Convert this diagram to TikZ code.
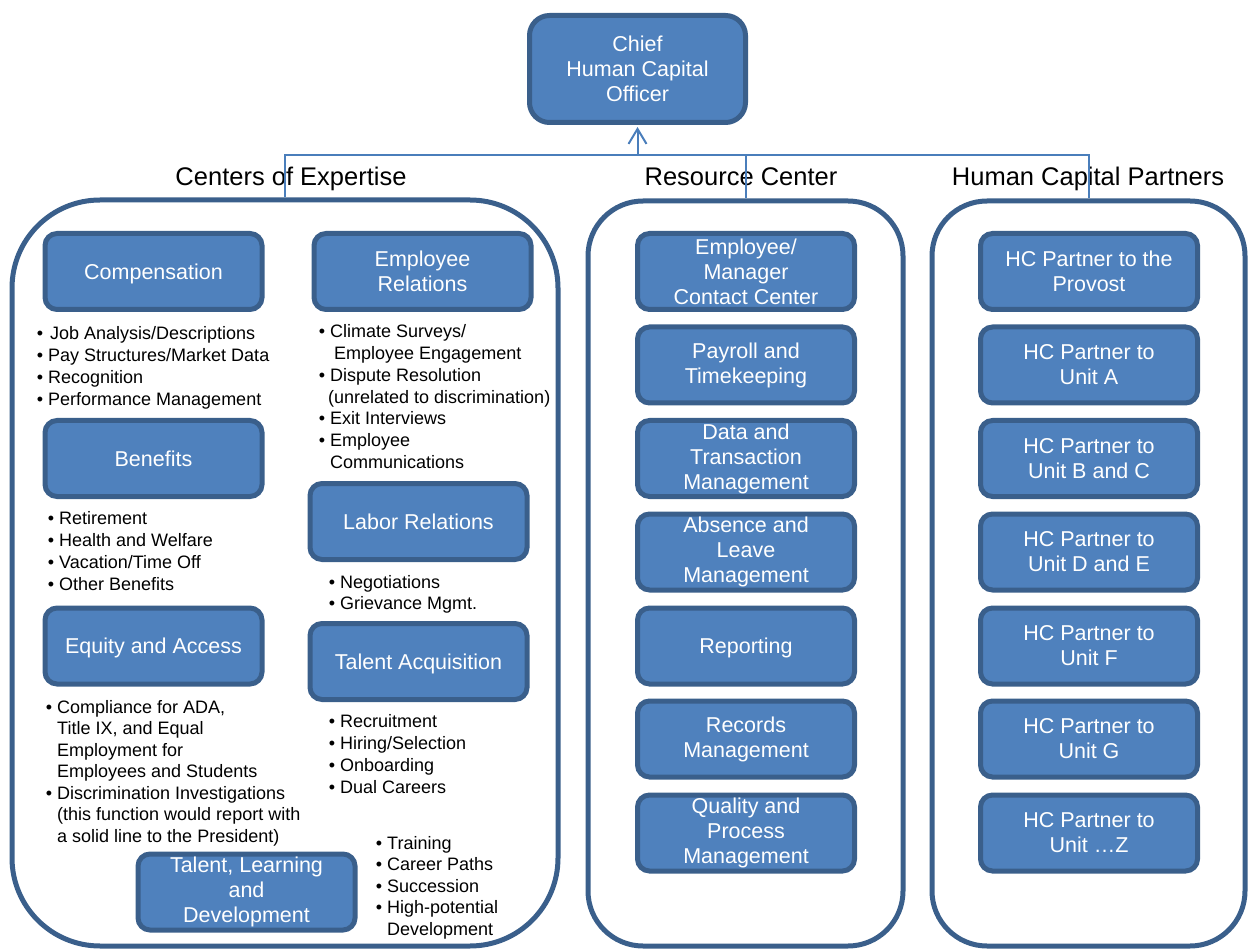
\documentclass[tikz,border=0pt]{standalone}
\usepackage{fontspec}
\setmainfont{Liberation Sans}
\usetikzlibrary{arrows.meta}
\definecolor{boxfill}{HTML}{4F81BD}
\definecolor{boxline}{HTML}{3A5F8B}
\definecolor{connc}{HTML}{4A7EBB}
% bullet hanging to the left of the item text
\newcommand\itm{\leavevmode\llap{\textbullet\hspace{5pt}}}
% bullet list block: #1 line spacing, #2 lines
\newcommand\blist[2]{\parbox[t]{300pt}{\raggedright\fontsize{18}{#1}\selectfont #2}}
\begin{document}
\begin{tikzpicture}[x=1pt,y=-1pt,
  box/.style={draw=boxline, fill=boxfill, line width=5pt, rounded corners=12pt,
    minimum width=217pt, minimum height=76pt, inner sep=0pt, text=white,
    align=center, font=\fontsize{21.5}{25}\selectfont},
  oneline/.style={text depth=0pt},
  container/.style={draw=boxline, line width=5pt, inner sep=0pt},
  hdr/.style={font=\fontsize{25.5}{30}\selectfont, inner sep=0pt, anchor=base},
  lst/.style={inner sep=0pt, anchor=base west},
  conn/.style={draw=connc, line width=2pt}]
\useasboundingbox (0,0) rectangle (1248,949);

% group containers
\node[container, minimum width=546pt, minimum height=746pt, rounded corners=88pt] (lc) at (285,573) {};
\node[container, minimum width=315pt, minimum height=745pt, rounded corners=55pt] (mc) at (745.5,573.5) {};
\node[container, minimum width=313pt, minimum height=745pt, rounded corners=55pt] (rc) at (1088.5,573.5) {};

% group headings
\node[hdr] (hce) at (291,186) {Centers of Expertise};
\node[hdr] (hrc) at (741,186) {Resource Center};
\node[hdr] (hhp) at (1088,186) {Human Capital Partners};

% top box
\node[box, minimum width=216pt, minimum height=107pt, rounded corners=20pt] (chief) at (637.5,69) {Chief\\Human Capital\\Officer};

% reporting lines
\coordinate (bus) at (0,155);
\draw[conn] (lc.north) -- (lc.north |- bus) -- (rc.north |- bus) -- (rc.north);
\draw[conn] (mc.north) -- (mc.north |- bus);
\draw[conn, -{Straight Barb[length=15pt,width=18pt]}, shorten >=2pt] (chief.south |- bus) -- (chief.south);

% Centers of Expertise
\node[box, oneline] (comp) at (153.5,271.5) {Compensation};
\node[box, oneline] (ben) at (153.5,458.5) {Benefits};
\node[box, oneline] (eqa) at (153.5,646) {Equity and Access};
\node[box] (er) at (422.5,271.5) {Employee\\Relations};
\node[box, oneline] (lr) at (418.5,521.5) {Labor Relations};
\node[box, oneline] (ta) at (418.5,661.5) {Talent Acquisition};
\node[box] (tld) at (246.5,892) {Talent, Learning\\and\\Development};

\node[lst] (lcomp) at (48,340) {\blist{22pt}{\itm\hspace*{2pt}Job Analysis/Descriptions\\
  \itm Pay Structures/Market Data\\ \itm Recognition\\ \itm Performance Management}};
\node[lst] (lben) at (59,524) {\blist{22pt}{\itm Retirement\\ \itm Health and Welfare\\
  \itm Vacation/Time Off\\ \itm Other Benefits}};
\node[lst] (leqa) at (57,713) {\blist{21.5pt}{\itm Compliance for ADA,\\ Title IX, and Equal\\
  Employment for\\ Employees and Students\\ \itm Discrimination Investigations\\
  (this function would report with\\ a solid line to the President)}};
\node[lst] (ler) at (330,338) {\blist{21.7pt}{\itm Climate Surveys/\\ \hspace*{4pt}Employee Engagement\\
  \itm Dispute Resolution\\ \hspace*{-2pt}(unrelated to discrimination)\\
  \itm Exit Interviews\\ \itm Employee\\ Communications}};
\node[lst] (llr) at (340,588) {\blist{21pt}{\itm Negotiations\\ \itm Grievance Mgmt.}};
\node[lst] (lta) at (340,727) {\blist{22pt}{\itm Recruitment\\ \itm Hiring/Selection\\
  \itm Onboarding\\ \itm Dual Careers}};
\node[lst] (ltld) at (387,849) {\blist{21.5pt}{\itm Training\\ \itm Career Paths\\
  \itm Succession\\ \itm High-potential\\ Development}};

% Resource Center
\node[box] (rc1) at (746,271.5) {Employee/\\Manager\\Contact Center};
\node[box] (rc2) at (746,365) {Payroll and\\Timekeeping};
\node[box] (rc3) at (746,458.5) {Data and\\Transaction\\Management};
\node[box] (rc4) at (746,552) {Absence and\\Leave\\Management};
\node[box, oneline] (rc5) at (746,646) {Reporting};
\node[box] (rc6) at (746,739) {Records\\Management};
\node[box] (rc7) at (746,833) {Quality and\\Process\\Management};

% Human Capital Partners
\node[box] (hp1) at (1089,271.5) {HC Partner to the\\Provost};
\node[box] (hp2) at (1089,365) {HC Partner to\\Unit A};
\node[box] (hp3) at (1089,458.5) {HC Partner to\\Unit B and C};
\node[box] (hp4) at (1089,552) {HC Partner to\\Unit D and E};
\node[box] (hp5) at (1089,646) {HC Partner to\\Unit F};
\node[box] (hp6) at (1089,739) {HC Partner to\\Unit G};
\node[box] (hp7) at (1089,833) {HC Partner to\\Unit \ldots Z};
\end{tikzpicture}
\end{document}
